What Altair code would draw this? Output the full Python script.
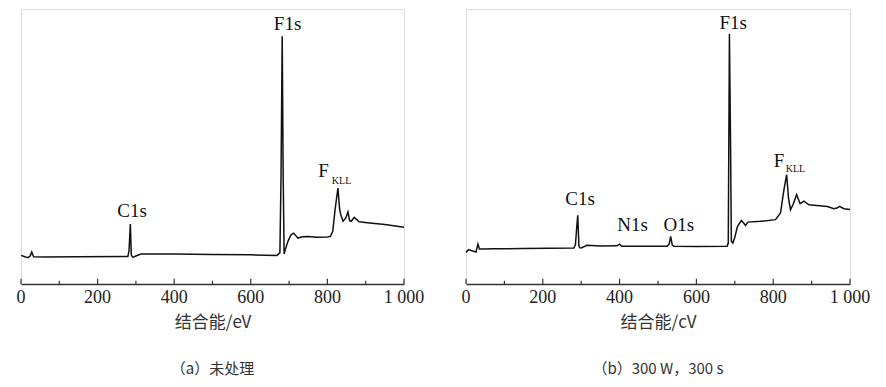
import altair as alt
import pandas as pd

# ---- data: panel (a) untreated ----
ev_a = [0, 10, 18, 24, 28, 33, 60, 150, 270, 279, 282, 285.5, 288, 292, 300, 313, 400, 500, 600,
        668, 676, 679, 682, 684.5, 687, 690, 697, 705, 712, 718, 723, 735, 750, 773, 800, 808, 814,
        820, 827.5, 832, 835, 841, 848, 853.6, 858, 862, 870, 883, 904, 950, 1000]
int_a = [10.4, 9.9, 9.6, 10.2, 11.6, 9.9, 9.8, 9.9, 10.0, 10.0, 12.0, 21.8, 10.5, 9.7, 10.2, 10.9, 10.9, 10.7, 10.6,
         10.4, 11.3, 40.0, 90.1, 40.0, 10.9, 12.5, 15.5, 17.9, 18.5, 17.5, 16.7, 17.2, 17.3, 17.0, 17.1, 17.3, 19.2,
         27.0, 34.9, 27.0, 25.2, 22.8, 24.0, 26.2, 23.0, 22.8, 24.2, 22.6, 22.3, 21.6, 20.6]

# ---- data: panel (b) 300 W, 300 s ----
ev_b = [0, 7, 15, 20, 26, 31, 35, 50, 72, 150, 281, 285, 288, 291, 294, 296, 300, 315, 350, 393, 400, 405,
        450, 524, 529, 533, 537, 541, 600, 680, 683, 686, 689, 691, 695, 700, 707, 717, 724, 728, 734, 767,
        806, 819, 828, 835, 840, 845, 852, 861, 870, 880, 893, 941, 958, 966, 973, 984, 1000]
int_b = [11.5, 12.5, 12.1, 11.9, 11.6, 14.5, 12.7, 12.7, 12.8, 12.9, 13.1, 14.3, 20.0, 25.0, 14.0, 13.2, 13.1, 14.1, 13.8, 13.9, 14.5, 13.7,
         13.7, 13.7, 14.5, 17.3, 14.2, 13.7, 13.6, 13.7, 14.9, 91.0, 50.0, 15.5, 14.9, 17.0, 21.0, 23.1, 22.0, 21.3, 22.5, 22.8,
         23.4, 25.8, 34.3, 39.8, 31.0, 27.0, 29.0, 32.5, 29.2, 30.1, 28.8, 28.2, 27.4, 27.6, 28.2, 27.4, 27.1]

# ---- peak labels ----
lab_a_text = ["F1s", "C1s", "F"]
lab_a_x = [696, 290, 790]
lab_a_y = [94.7, 26.5, 41.0]
sub_a_text = ["KLL"]
sub_a_x = [837]
sub_a_y = [37.6]

lab_b_text = ["F1s", "C1s", "N1s", "O1s", "F"]
lab_b_x = [696, 297, 434, 554, 815]
lab_b_y = [95.0, 31.0, 21.5, 21.5, 44.8]
sub_b_text = ["KLL"]
sub_b_x = [858]
sub_b_y = [41.7]

tick_vals = [0, 200, 400, 600, 800, 1000]
tick_labels = ["0", "200", "400", "600", "800", "1 000"]
minor_vals = [100, 300, 500, 700, 900]

titles = ["结合能/eV", "结合能/cV"]
captions = ["（a）未处理", "（b）300 W，300 s"]

SERIF = "Liberation Serif"
CJK = "Noto Sans CJK SC"
H = 275

ticks_df = pd.DataFrame({
    "x": tick_vals + minor_vals,
    "y0": [0.0] * (len(tick_vals) + len(minor_vals)),
    "len": [1.9] * len(tick_vals) + [1.2] * len(minor_vals),
})
ticklab_df = pd.DataFrame({"x": tick_vals, "y": [0.0] * len(tick_vals), "t": tick_labels})


def panel(ev, inten, lt, lx, ly, st, sx, sy, xtitle, caption, width):
    df = pd.DataFrame({"ev": ev, "i": inten})
    xs = alt.Scale(domain=[0, 1000], nice=False)
    ys = alt.Scale(domain=[0, 100], nice=False)
    xaxis = alt.Axis(values=tick_vals, ticks=False, grid=False, labels=False,
                     domainColor="#333", domainWidth=1.3,
                     titleFont=CJK, titleFontSize=17, titleFontWeight="normal",
                     titleColor="#333", titlePadding=30)

    def X(field):
        return alt.X(field, scale=xs, title=xtitle, axis=xaxis)

    def Y(field):
        return alt.Y(field, scale=ys, axis=None)

    line = alt.Chart(df).mark_line(color="#111", strokeWidth=1.5, interpolate="linear").encode(
        x=X("ev:Q"), y=Y("i:Q"))
    tk = alt.Chart(ticks_df).mark_rule(color="#333", strokeWidth=1.2).encode(
        x=X("x:Q"), y=Y("y0:Q"), y2="len:Q")
    tl = alt.Chart(ticklab_df).mark_text(
        font=SERIF, fontSize=18, color="#222", align="center", baseline="middle", dy=14).encode(
        x=X("x:Q"), y=Y("y:Q"), text="t:N")
    lab = alt.Chart(pd.DataFrame({"t": lt, "x": lx, "y": ly})).mark_text(
        font=SERIF, fontSize=19, color="#111", align="center", baseline="middle").encode(
        x=X("x:Q"), y=Y("y:Q"), text="t:N")
    sub = alt.Chart(pd.DataFrame({"t": st, "x": sx, "y": sy})).mark_text(
        font=SERIF, fontSize=10, color="#111", align="center", baseline="middle").encode(
        x=X("x:Q"), y=Y("y:Q"), text="t:N")
    return alt.layer(line, tk, tl, lab, sub).properties(
        width=width, height=H,
        title=alt.TitleParams(caption, orient="bottom", font=CJK, fontSize=15,
                              fontWeight="normal", color="#333", offset=32),
    )


pa = panel(ev_a, int_a, lab_a_text, lab_a_x, lab_a_y, sub_a_text, sub_a_x, sub_a_y,
           titles[0], captions[0], 383)
pb = panel(ev_b, int_b, lab_b_text, lab_b_x, lab_b_y, sub_b_text, sub_b_x, sub_b_y,
           titles[1], captions[1], 384)

chart = alt.hconcat(pa, pb, spacing=36).properties(
    padding={"left": 8, "top": 0, "right": 0, "bottom": 0}
).configure_view(stroke="#333", strokeWidth=1.3).configure(background="white")

chart.save("out.html", embed_options={"renderer": "svg", "actions": False})
